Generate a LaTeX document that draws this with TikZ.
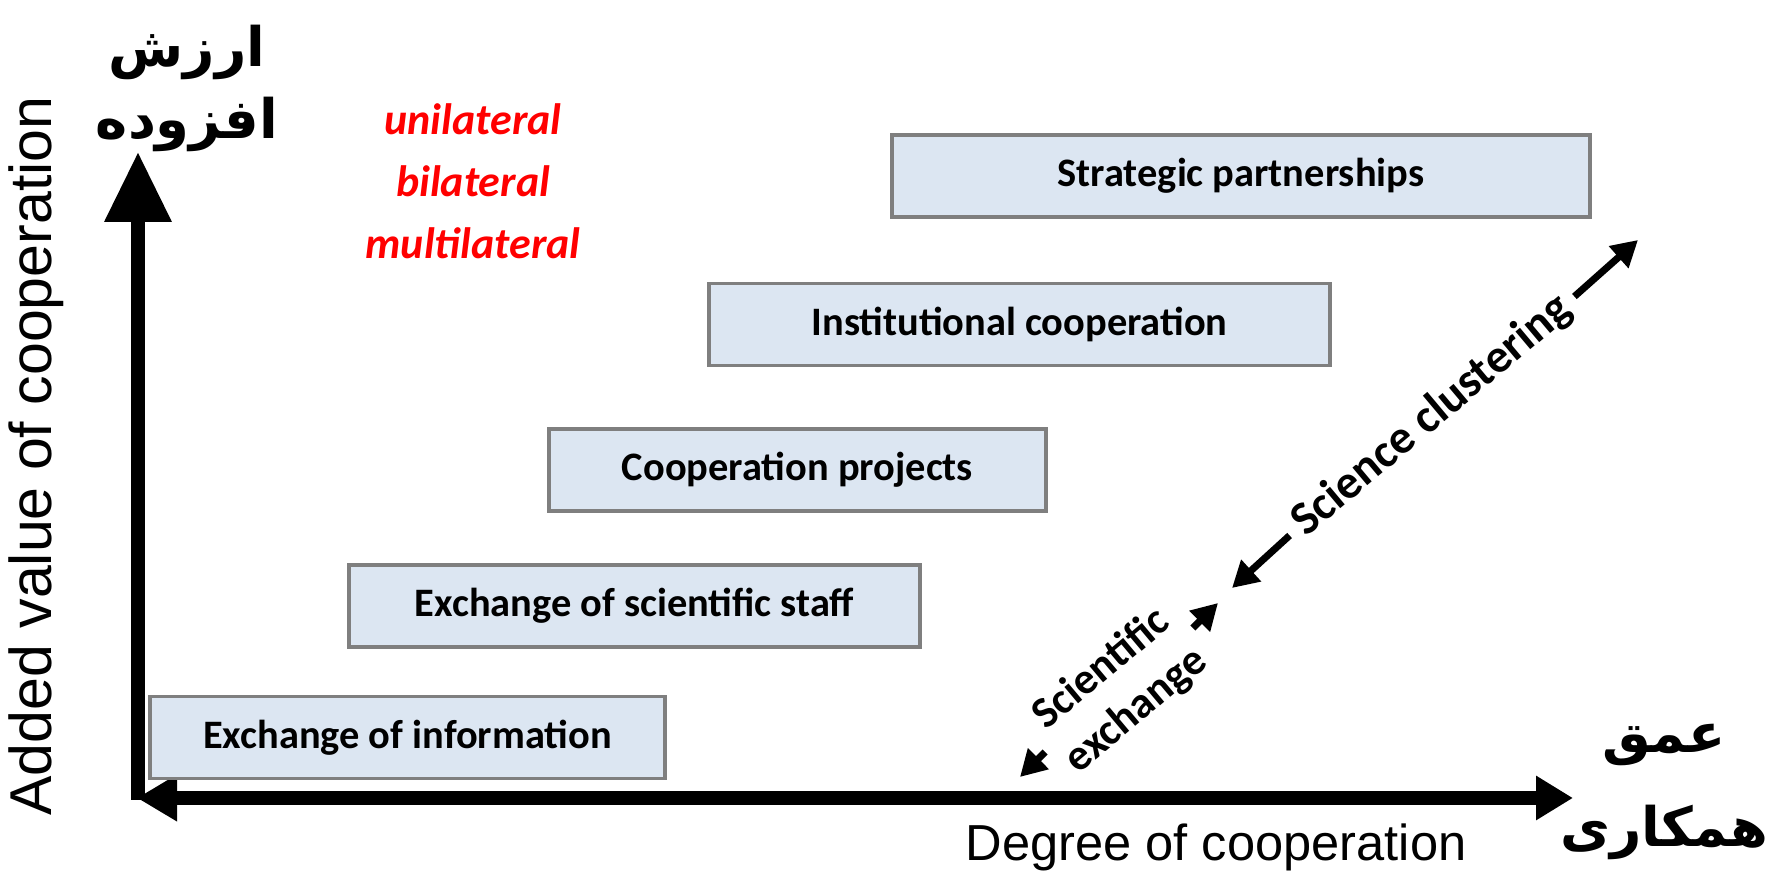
\documentclass[tikz,border=0pt]{standalone}
\usepackage{fontspec}
\usepackage{tikz}
\usetikzlibrary{arrows.meta, positioning}
\setmainfont{Liberation Sans}
\newfontfamily\calfont{Carlito}
\newfontfamily\arabicfont[Script=Arabic]{DejaVu Sans}
\TeXXeTstate=1
\definecolor{boxfill}{HTML}{DCE6F2}
\definecolor{boxline}{HTML}{7F7F7F}

\begin{document}
\begin{tikzpicture}[
    stage/.style={rectangle, draw=boxline, line width=0.9pt, fill=boxfill, inner sep=0pt, minimum height=0.82cm, font=\calfont\bfseries\fontsize{11.5}{13}\selectfont},
    axis/.style={line width=3.8pt},
    flow/.style={line width=2pt, -{Triangle[length=0.26cm, width=0.28cm]}},
    diaglabel/.style={rotate=40, font=\calfont\bfseries\fontsize{13.5}{15}\selectfont, inner sep=3pt},
    farsi/.style={font=\arabicfont\bfseries\fontsize{15.5}{19.5}\selectfont, align=center}
]
    \useasboundingbox (0,0) rectangle (17.75,8.78);

    % axes
    \coordinate (origin) at (1.38,0.78);
    \coordinate (ytip) at (1.38,7.26);
    \coordinate (xleft) at (1.37,0.80);
    \coordinate (xright) at (15.73,0.80);
    \draw[axis, -{Triangle[length=0.7cm, width=0.64cm]}] (origin) -- (ytip);
    \draw[axis, line width=4.2pt, {Triangle[length=0.4cm, width=0.44cm]}-{Triangle[length=0.37cm, width=0.42cm]}] (xleft) -- (xright);

    \node[rotate=90, font=\fontsize{16.8}{18}\selectfont] (yname) at (0.36,4.22) {Added value of cooperation};
    \node[font=\fontsize{14.4}{16}\selectfont] (xname) at (12.16,0.31) {Degree of cooperation};
    \node[farsi] (yfa) at (1.87,7.90) {\beginR ارزش\endR\\[1pt]\beginR افزوده\endR};
    \node[farsi] (xfa) at (16.64,0.86) {\beginR عمق\endR\\[7pt]\beginR همکاری\endR};

    % stages
    \node[stage, minimum width=5.15cm] (info) at (4.075,1.405) {Exchange of information};
    \node[stage, minimum width=5.71cm] (staff) at (6.345,2.72) {Exchange of scientific staff};
    \node[stage, minimum width=4.97cm] (projects) at (7.975,4.08) {Cooperation projects};
    \node[stage, minimum width=6.21cm] (inst) at (10.195,5.535) {Institutional cooperation};
    \node[stage, minimum width=6.98cm] (strat) at (12.41,7.02) {Strategic partnerships};

    \node[font=\calfont\bfseries\itshape\fontsize{12.5}{17.6}\selectfont, text=red, align=center] (lateral) at (4.73,6.97) {unilateral\\bilateral\\multilateral};

    % diagonal arrows
    \node[diaglabel] (clus) at (14.32,4.62) {Science clustering};
    \coordinate (clusLo) at (12.32,2.90);
    \coordinate (clusHi) at (16.38,6.38);
    \draw[flow] (clus.west) -- (clusLo);
    \draw[flow] (clus.east) -- (clusHi);

    \node[diaglabel, align=center, font=\calfont\bfseries\fontsize{12.5}{15.3}\selectfont] (sciex) at (11.19,1.88) {Scientific\\exchange};
    \coordinate (sciexLo) at (10.20,1.01);
    \coordinate (sciexHi) at (12.18,2.75);
    \draw[flow] (sciex.west) -- (sciexLo);
    \draw[flow] (sciex.east) -- (sciexHi);
\end{tikzpicture}
\end{document}
